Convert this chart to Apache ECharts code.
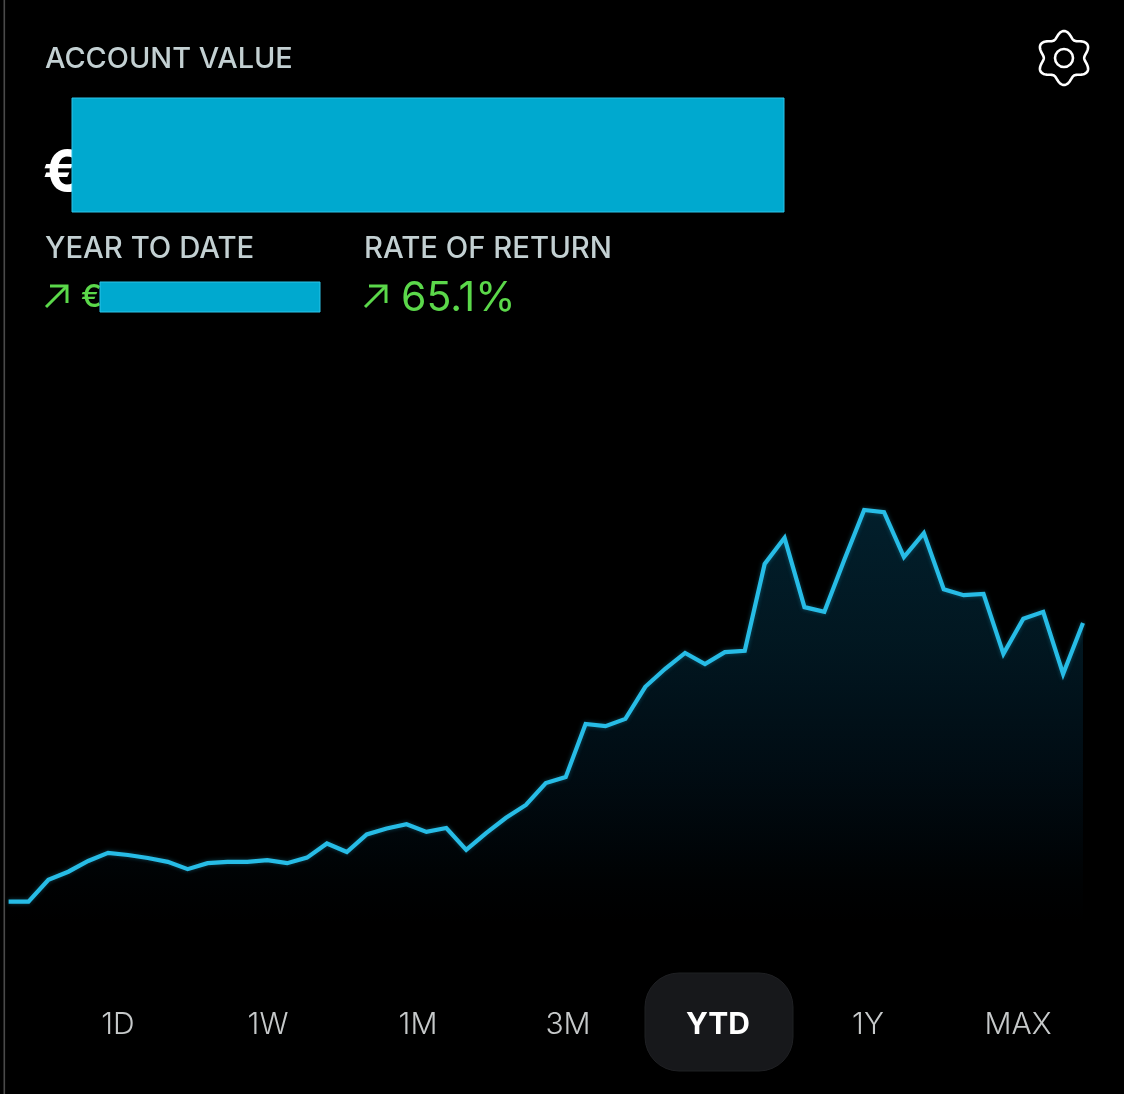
<!DOCTYPE html>
<html>
<head>
<meta charset="utf-8">
<style>html,body{margin:0;padding:0;background:#000}#c{width:1124px;height:1094px}</style>
<script src="https://cdn.jsdelivr.net/npm/echarts@6/dist/echarts.min.js"></script>
</head>
<body>
<div id="c"></div>
<script>
const returnPct = [0,0,5.1,7.0,9.5,11.4,10.9,10.2,9.3,7.6,9.0,9.3,9.3,9.7,9.0,10.3,13.6,11.6,15.7,17.1,18.1,16.3,17.2,12.1,16.0,19.6,22.6,27.7,29.1,41.5,41.0,42.7,50.2,54.4,58.1,55.5,58.3,58.6,78.9,85.0,68.8,67.7,79.8,91.5,91.0,80.5,86.1,73.0,71.6,71.9,57.9,66.1,67.7,53.2,65.1];
const periods = ['1D','1W','1M','3M','YTD','1Y','MAX'];
const activePeriod = 'YTD';
const headerLabels = ['ACCOUNT VALUE','YEAR TO DATE','RATE OF RETURN'];
const rateText = '65.1%';
const euro = '€';

const FONT = 'Inter, "Noto Sans", sans-serif';
const LABEL = '#c3d0d2', GREEN = '#5bd84a', REDACT = '#00a9cf', REDACT_EDGE = '#2cc3e8';
const chart = echarts.init(document.getElementById('c'), null, {renderer:'canvas'});

function label(text,x,y,size,fill,weight,align){
  return {type:'text',x,y,z:10,style:{text,fontFamily:FONT,fontSize:size,fontWeight:weight||400,fill,align:align||'left',verticalAlign:'middle'}};
}
function redaction(x,y,w,h){
  return {type:'rect',z:20,shape:{x:x+.5,y:y+.5,width:w,height:h},style:{fill:REDACT,stroke:REDACT_EDGE,lineWidth:1}};
}
function arrow(x,y){
  return {type:'group',x,y,z:10,children:[
    {type:'polyline',shape:{points:[[0,21],[21,0]]},style:{stroke:GREEN,lineWidth:3,fill:null}},
    {type:'polyline',shape:{points:[[4,0],[21,0],[21,17]]},style:{stroke:GREEN,lineWidth:3,fill:null}}
  ]};
}
function gearPath(){
  const pts=[];
  for(let i=0;i<=180;i++){
    const t=i/180*Math.PI*2;
    const r=23.6+3.4*Math.cos(6*t);
    pts.push([r*Math.sin(t),-r*Math.cos(t)]);
  }
  return pts;
}
const tabX = [118,268,418,568,718,868,1018];

chart.setOption({
  backgroundColor:'#000',
  animation:false,
  grid:{left:8.6,right:41,top:495,height:449.5,containLabel:false},
  xAxis:{type:'category',boundaryGap:false,data:returnPct.map((_,i)=>i),show:false},
  yAxis:{type:'value',min:-10,max:95,show:false},
  series:[{
    type:'line',data:returnPct,symbol:'none',smooth:false,
    lineStyle:{color:'#27bce6',width:4.2,join:'miter',shadowColor:'rgba(39,188,230,.35)',shadowBlur:4},
    areaStyle:{origin:'start',color:new echarts.graphic.LinearGradient(0,0,0,1,[
      {offset:0,color:'#032c3e'},
      {offset:.3,color:'#02212f'},
      {offset:.6,color:'#01111b'},
      {offset:.85,color:'#000305'},
      {offset:.95,color:'#000000'}
    ])}
  }],
  graphic:{elements:[
    {type:'rect',shape:{x:3.5,y:0,width:1.6,height:1094},style:{fill:'#4a4a4a'},z:1},
    label(headerLabels[0],45,59,28.9,LABEL,500),
    label(euro,43,174,56,'#ffffff',700),
    redaction(71.5,97.5,712,114),
    label(headerLabels[1],45,249,29.3,LABEL,500),
    label(headerLabels[2],364,249,29.3,LABEL,500),
    arrow(46,286),
    label(euro,81,298,31,GREEN,500),
    redaction(99.5,281.5,220,30),
    arrow(365,286),
    label(rateText,401,299,41,GREEN,400),
    {type:'polygon',x:1064,y:58,z:10,shape:{points:gearPath()},style:{fill:null,stroke:'#fff',lineWidth:2.6}},
    {type:'circle',x:1064,y:58,z:10,shape:{r:9},style:{fill:null,stroke:'#fff',lineWidth:2.6}},
    {type:'rect',z:5,shape:{x:645,y:973,width:148,height:98,r:34},style:{fill:'#17181b',stroke:'#1f2023',lineWidth:1}},
    ...periods.map((p,i)=>label(p,tabX[i],1025,30,p===activePeriod?'#ffffff':'#c6c9ca',p===activePeriod?700:300,'center'))
  ]}
});
</script>
</body>
</html>
